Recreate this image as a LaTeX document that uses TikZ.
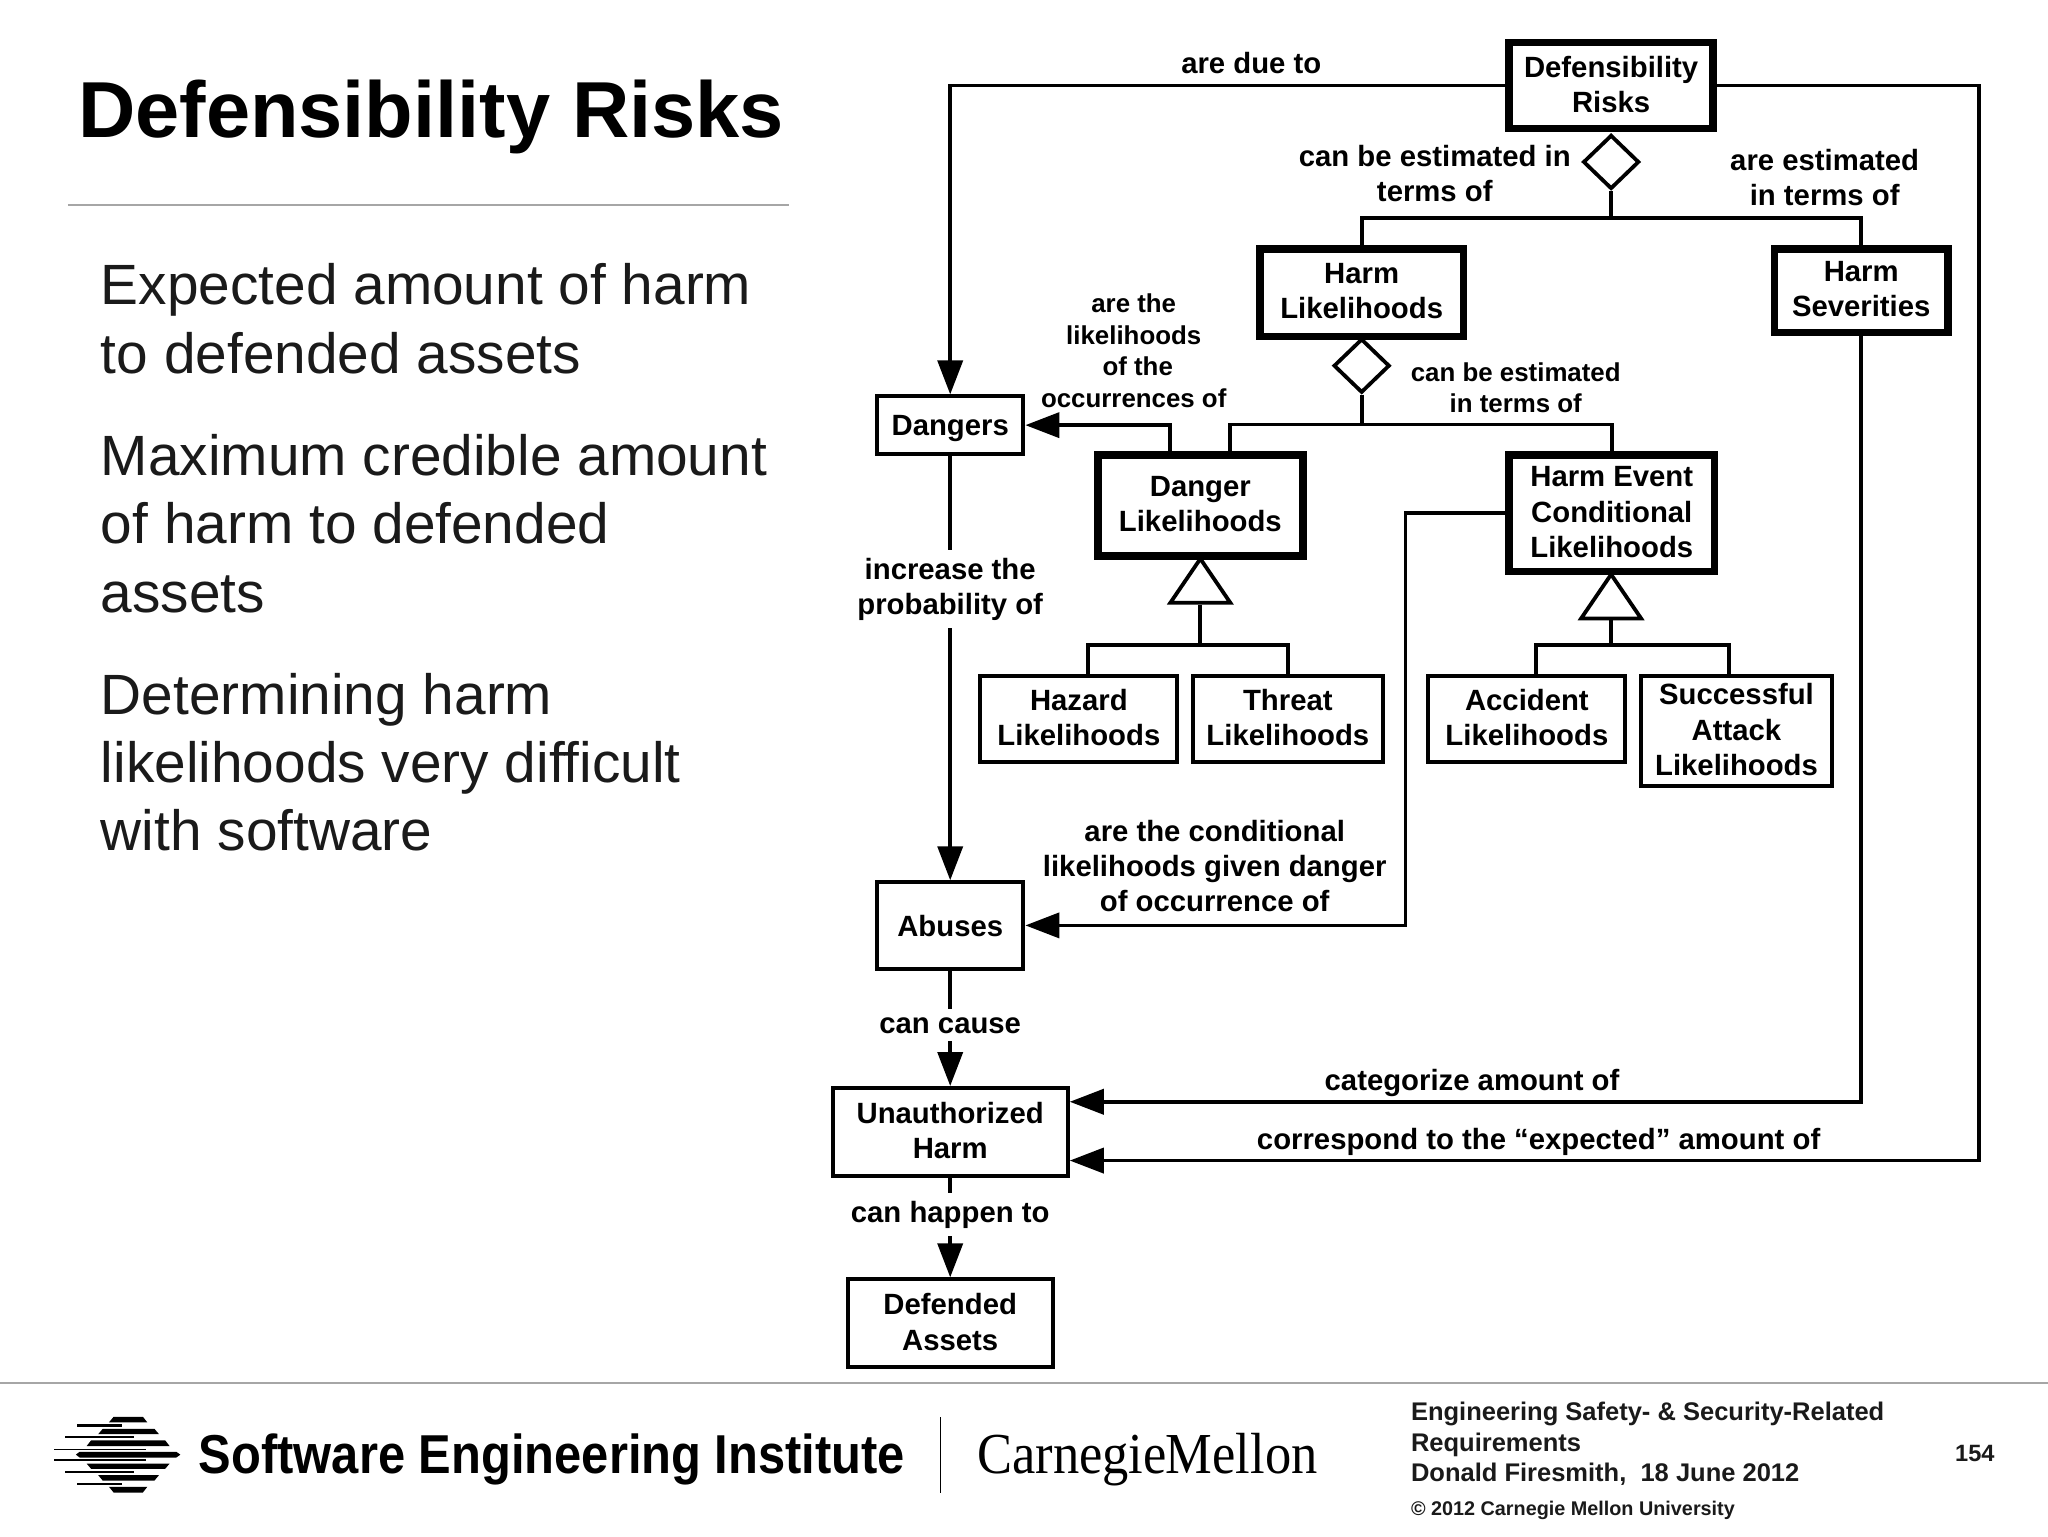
\documentclass[tikz,border=0pt]{standalone}
\usepackage{fontspec}
\usepackage{graphicx}
\setmainfont{Liberation Sans}
\newfontfamily\cmufont{Liberation Serif}
\usetikzlibrary{arrows.meta,shapes.geometric}
\definecolor{bodyc}{HTML}{1A1A1A}
\definecolor{rulec}{HTML}{A6A6A6}
\tikzset{
  x=0.653061pt,y=-0.653061pt,
  bx/.style n args={2}{draw=black,fill=white,align=center,font=\bfseries\fontsize{14.65}{17.6}\selectfont,inner sep=0pt,text depth=1.3pt,minimum width=#1*0.653061pt,minimum height=#2*0.653061pt},
  thinbox/.style={line width=2pt},
  thickbox/.style={line width=3.8pt},
  conn/.style={line width=1.9pt,draw=black},
  arr/.style={conn,-{Triangle[length=17pt,width=12.5pt]}},
  lbl/.style={align=center,font=\bfseries\fontsize{14.65}{17.6}\selectfont,inner sep=0pt},
  lbls/.style={align=center,font=\bfseries\fontsize{12.93}{15.7}\selectfont,inner sep=0pt},
  gaplbl/.style={lbl,fill=white,inner xsep=1pt,inner ysep=4pt},
  dia/.style={diamond,draw=black,fill=white,line width=1.9pt,inner sep=0pt,minimum width=28pt,minimum height=27pt},
  tri/.style={isosceles triangle,isosceles triangle stretches,shape border rotate=90,draw=black,fill=white,line width=1.9pt,inner sep=0pt,minimum width=30pt,minimum height=22pt,anchor=apex},
  body/.style={anchor=base west,inner sep=0pt,text=bodyc,font=\fontsize{28.4}{34.3}\selectfont},
  foot/.style={anchor=base west,inner sep=0pt,text=bodyc,font=\bfseries\fontsize{12.75}{15}\selectfont},
}
\begin{document}
\begin{tikzpicture}
\useasboundingbox (0,0) rectangle (1568,1176);
\fill[white] (0,0) rectangle (1568,1176);

% left column
\node[anchor=base west,inner sep=0pt,font=\bfseries\fontsize{39.7}{44}\selectfont] (title) at (59.5,105) {Defensibility Risks};
\draw[rulec,line width=0.7pt] (52,157) -- (604,157);
\node[body] (b1) at (77,233) {Expected amount of harm};
\node[body] (b2) at (77,286) {to defended assets};
\node[body] (b3) at (77,364) {Maximum credible amount};
\node[body] (b4) at (77,416) {of harm to defended};
\node[body] (b5) at (77,469) {assets};
\node[body] (b6) at (77,547) {Determining harm};
\node[body] (b7) at (77,599) {likelihoods very difficult};
\node[body] (b8) at (77,651) {with software};

% boxes
\node[bx={156}{66},thickbox] (dr) at (1233.5,65.5) {Defensibility\\Risks};
\node[bx={156}{67},thickbox] (hl) at (1042.5,224) {Harm\\Likelihoods};
\node[bx={133}{64},thickbox] (hs) at (1425,222.5) {Harm\\Severities};
\node[bx={112}{44},thinbox,text depth=0pt] (dg) at (727.5,325.5) {Dangers};
\node[bx={157}{77},thickbox] (dl) at (919,387) {Danger\\Likelihoods};
\node[bx={157}{89},thickbox] (hc) at (1234,393) {Harm Event\\Conditional\\Likelihoods};
\node[bx={151}{66},thinbox] (hz) at (826,550.5) {Hazard\\Likelihoods};
\node[bx={146}{66},thinbox] (th) at (986,550.5) {Threat\\Likelihoods};
\node[bx={151}{66},thinbox] (ac) at (1169,550.5) {Accident\\Likelihoods};
\node[bx={146}{84},thinbox] (sa) at (1329.5,559.5) {Successful\\Attack\\Likelihoods};
\node[bx={112}{66},thinbox,text depth=0pt] (ab) at (727.5,708.5) {Abuses};
\node[bx={180}{67},thinbox] (uh) at (727.5,866.5) {Unauthorized\\Harm};
\node[bx={157}{67},thinbox] (da) at (727.5,1013) {Defended\\Assets};

% diamonds and triangles
\node[dia] (d1) at (1233.5,124) {};
\node[dia] (d2) at (1042.5,280) {};
\node[tri] (t1) at (919,424) {};
\node[tri] (t2) at (1233.5,436) {};

% junctions
\coordinate (j1) at (1233.5,167);
\coordinate (j2) at (1042.5,325);
\coordinate (j3) at (919,494);
\coordinate (j4) at (1233.5,494);
\coordinate (c1) at (1076,393);
\coordinate (c2) at (1515,65.5);

% connectors
\draw[conn] (d1.south) -- (j1);
\draw[conn] (hl.north) |- (j1);
\draw[conn] (hs.north) |- (j1);
\draw[conn] (d2.south) -- (j2);
\draw[conn] ([xshift=15pt]dl.north) |- (j2);
\draw[conn] (hc.north) |- (j2);
\draw[conn] (t1.lower side) -- (j3);
\draw[conn] ([xshift=4.6pt]hz.north) |- (j3);
\draw[conn] (th.north) |- (j3);
\draw[conn] (t2.lower side) -- (j4);
\draw[conn] ([xshift=4.6pt]ac.north) |- (j4);
\draw[conn] ([xshift=-3.6pt]sa.north) |- (j4);
\draw[arr] (dr.west) -| (dg.north);
\draw[arr] ([xshift=-15pt]dl.north) |- (dg.east);
\draw[arr] (hc.west) -- (c1) |- (ab.east);
\draw[arr] (hs.south) |- ([yshift=15pt]uh.east);
\draw[arr] (dr.east) -- (c2) |- ([yshift=-14.4pt]uh.east);
\draw[arr] (dg.south) -- (ab.north);
\draw[arr] (ab.south) -- (uh.north);
\draw[arr] (uh.south) -- (da.north);

% labels
\node[lbl] (l1) at (958,48.5) {are due to};
\node[lbl] (l2) at (1098.5,133) {can be estimated in\\terms of};
\node[lbl] (l3) at (1397,136) {are estimated\\in terms of};
\node[lbls] (l4) at (868,268.5) {are the\\likelihoods\\\hspace*{4pt}of the\\occurrences of};
\node[lbls] (l5) at (1160.5,297) {can be estimated\\in terms of};
\node[gaplbl] (l6) at (727.5,451) {increase the\\probability of};
\node[lbl] (l7) at (930,663) {are the conditional\\likelihoods given danger\\of occurrence of};
\node[gaplbl] (l8) at (727.5,785) {can cause};
\node[gaplbl] (l9) at (727.5,930) {can happen to};
\node[lbl] (l10) at (1127,829) {categorize amount of};
\node[lbl] (l11) at (1178,874) {correspond to the “expected” amount of};

% footer
\draw[rulec,line width=0.8pt] (0,1059) -- (1568,1059);
\begin{scope}[black]
\fill (87,1084.7) -- (109.4,1084.7) -- (112.8,1089) -- (83.4,1089) -- cycle;
\fill (78.6,1094) -- (118.3,1094) -- (121.7,1098) -- (75.2,1098) -- cycle;
\fill (69.7,1102.8) -- (126.5,1102.8) -- (129.9,1107.2) -- (66.3,1107.2) -- cycle;
\fill (58.1,1113.7) -- (61,1111.5) -- (135,1111.5) -- (138.1,1113.7) -- (135,1115.9) -- (61,1115.9) -- cycle;
\fill (66.3,1120.5) -- (129.9,1120.5) -- (126.5,1124.5) -- (69.7,1124.5) -- cycle;
\fill (75.2,1129.4) -- (121.7,1129.4) -- (118.3,1133.5) -- (78.6,1133.5) -- cycle;
\fill (83.4,1138.3) -- (112.8,1138.3) -- (109.4,1142.7) -- (87,1142.7) -- cycle;
\fill (58.8,1090.6) rectangle (93.7,1092.6);
\fill (49.9,1099.8) rectangle (102.5,1101.3);
\fill (41,1109) rectangle (111.4,1110.3);
\fill (41,1117) rectangle (111.4,1118.7);
\fill (49.9,1126.3) rectangle (102.5,1127.6);
\fill (58.8,1135.3) rectangle (93.7,1136.8);
\end{scope}
\node[anchor=base west,inner sep=0pt,font=\bfseries\fontsize{27.4}{30}\selectfont] (sei) at (152,1128.5) {\scalebox{0.892}[1]{Software Engineering Institute}};
\draw[black,line width=0.6pt] (720,1085) -- (720,1143);
\node[anchor=base west,inner sep=0pt,font=\cmufont\fontsize{29}{32}\selectfont] (cmu) at (748,1128.5) {\scalebox{0.905}[1]{Carnegie\kern-0.5pt Mellon}};
\node[foot] (f1) at (1080,1087.5) {Engineering Safety- \& Security-Related};
\node[foot] (f2) at (1080,1111) {Requirements};
\node[foot] (f3) at (1080,1134) {Donald Firesmith,\ \ 18 June 2012};
\node[foot,font=\bfseries\fontsize{9.9}{12}\selectfont] (f4) at (1080,1160) {© 2012 Carnegie Mellon University};
\node[foot,anchor=center,font=\bfseries\fontsize{11.8}{14}\selectfont] (pg) at (1512,1113) {154};
\end{tikzpicture}
\end{document}
